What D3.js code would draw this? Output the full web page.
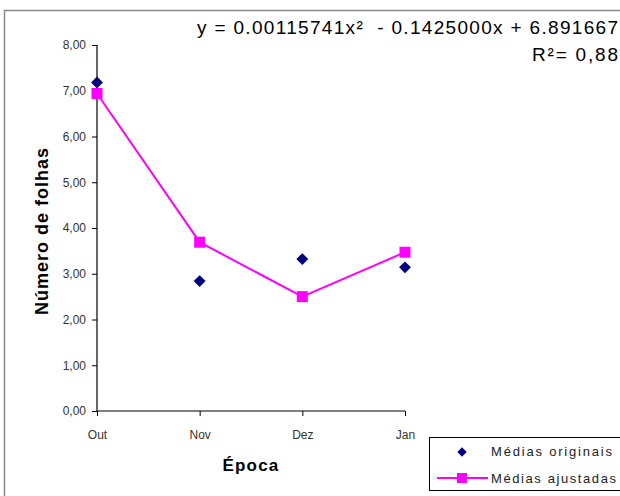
<!DOCTYPE html>
<html>
<head>
<meta charset="utf-8">
<script src="https://cdn.jsdelivr.net/npm/d3@7"></script>
<style>
  body { margin: 0; background: #fff; }
  svg { font-family: Arial, "Liberation Sans", sans-serif; }
</style>
</head>
<body>
<div class="chart"></div>
<script>
const epocas = ["Out", "Nov", "Dez", "Jan"];
const mediasOriginais = [7.18, 2.84, 3.32, 3.14];
const mediasAjustadas = [6.94, 3.69, 2.50, 3.47];
const yTicks = [0, 1, 2, 3, 4, 5, 6, 7, 8];
const equacao = "y = 0.00115741x\u00B2  - 0.1425000x + 6.891667";
const r2 = "R\u00B2= 0,88";
const legendas = ["M\u00E9dias originais", "M\u00E9dias ajustadas"];

const W = 620, H = 496;
const margin = { left: 97, top: 45 };
const width = 405 - margin.left;
const height = 411 - margin.top;

const svg = d3.select(".chart")
    .append("svg")
    .attr("width", W)
    .attr("height", H);

// outer frame
svg.append("path")
    .attr("d", `M4.5,${H}V10.5H${W}`)
    .attr("fill", "none")
    .attr("stroke", "#888")
    .attr("stroke-width", 1.5);

const g = svg.append("g")
    .attr("transform", `translate(${margin.left},${margin.top})`);

const xScale = d3.scalePoint().domain(epocas).range([0, width]);
const yScale = d3.scaleLinear().domain([0, 8]).range([height, 0]);

const xAxis = d3.axisBottom(xScale).tickSize(5).tickPadding(14);
const yAxis = d3.axisLeft(yScale).tickValues(yTicks).tickSize(5).tickPadding(6)
    .tickFormat(d => d3.format(".2f")(d).replace(".", ","));

g.append("g")
    .attr("class", "x-axis")
    .attr("transform", `translate(0,${height})`)
    .call(xAxis);

g.append("g")
    .attr("class", "y-axis")
    .call(yAxis);

g.selectAll(".domain").attr("stroke", "#000").attr("stroke-width", 1.2);
g.selectAll(".tick line").attr("stroke", "#000");
g.selectAll(".tick text")
    .attr("fill", "#333")
    .style("font-size", "12px");
g.select(".x-axis .domain").attr("d", `M0,0H${width}`);
g.select(".y-axis .domain").attr("d", `M0,${height}V0`);

// fitted line
const line = d3.line()
    .x((d, i) => xScale(epocas[i]))
    .y(d => yScale(d));

g.append("path")
    .datum(mediasAjustadas)
    .attr("fill", "none")
    .attr("stroke", "#ff00ff")
    .attr("stroke-width", 2)
    .attr("d", line);

g.selectAll(".sq")
    .data(mediasAjustadas)
    .enter()
    .append("rect")
    .attr("class", "sq")
    .attr("x", (d, i) => xScale(epocas[i]) - 5.5)
    .attr("y", d => yScale(d) - 5.5)
    .attr("width", 11)
    .attr("height", 11)
    .attr("fill", "#ff00ff");

const diamond = d3.symbol().type(d3.symbolDiamond2).size(90);

g.selectAll(".dm")
    .data(mediasOriginais)
    .enter()
    .append("path")
    .attr("class", "dm")
    .attr("transform", (d, i) => `translate(${xScale(epocas[i])},${yScale(d)})`)
    .attr("d", diamond)
    .attr("fill", "#000080");

// axis titles
svg.append("text")
    .attr("x", 251)
    .attr("y", 471)
    .attr("text-anchor", "middle")
    .style("font-size", "17px")
    .style("font-weight", "bold")
    .style("letter-spacing", "1.2px")
    .text("\u00C9poca");

svg.append("text")
    .attr("transform", "translate(48,231) rotate(-90)")
    .attr("text-anchor", "middle")
    .style("font-size", "18px")
    .style("font-weight", "bold")
    .style("letter-spacing", "1px")
    .text("N\u00FAmero de folhas");

// equation
svg.append("text")
    .attr("x", 197)
    .attr("y", 34)
    .attr("textLength", 421)
    .attr("lengthAdjust", "spacing")
    .style("font-size", "19px")
    .style("white-space", "pre")
    .text(equacao);

svg.append("text")
    .attr("x", 532)
    .attr("y", 61)
    .attr("textLength", 86)
    .attr("lengthAdjust", "spacing")
    .style("font-size", "19px")
    .text(r2);

// legend
const leg = svg.append("g").attr("transform", "translate(429,437)");
leg.append("rect")
    .attr("x", 0.5).attr("y", 0.5)
    .attr("width", 200).attr("height", 53)
    .attr("fill", "#fff")
    .attr("stroke", "#000");

leg.append("path")
    .attr("transform", "translate(33,15)")
    .attr("d", d3.symbol().type(d3.symbolDiamond2).size(55))
    .attr("fill", "#000080");

leg.append("line")
    .attr("x1", 8).attr("x2", 59)
    .attr("y1", 41).attr("y2", 41)
    .attr("stroke", "#ff00ff")
    .attr("stroke-width", 2);
leg.append("rect")
    .attr("x", 28).attr("y", 36)
    .attr("width", 10).attr("height", 10)
    .attr("fill", "#ff00ff");

leg.selectAll(".lt")
    .data(legendas)
    .enter()
    .append("text")
    .attr("class", "lt")
    .attr("x", 62)
    .attr("y", (d, i) => 19 + i * 27)
    .attr("textLength", (d, i) => i === 0 ? 121 : 125)
    .attr("lengthAdjust", "spacing")
    .attr("fill", "#222")
    .style("font-size", "13px")
    .text(d => d);
</script>
</body>
</html>
